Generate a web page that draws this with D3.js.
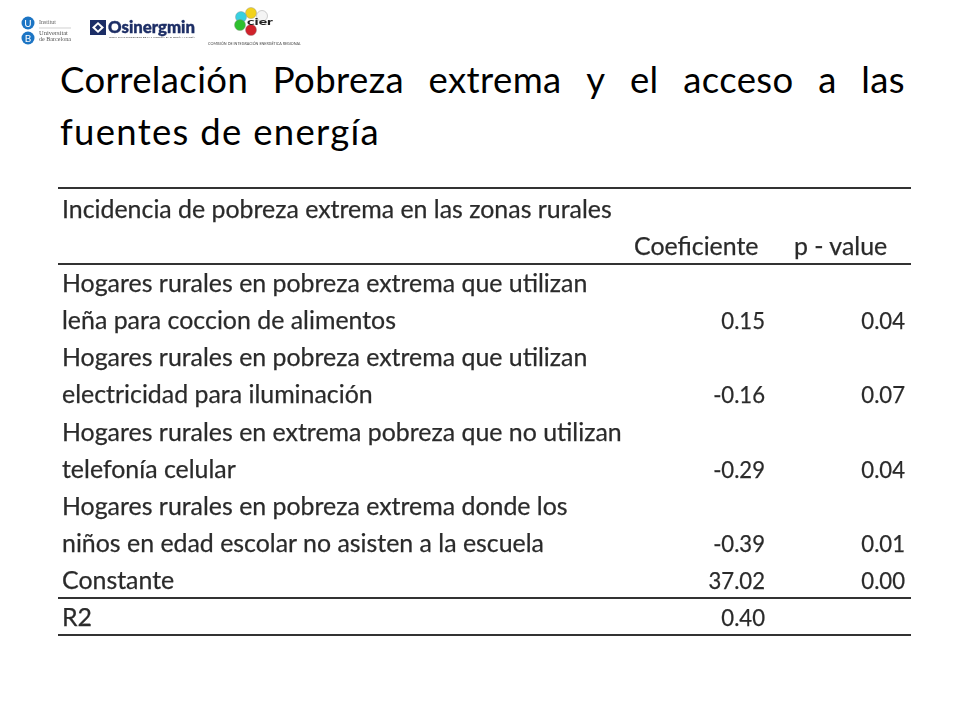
<!DOCTYPE html>
<html>
<head>
<meta charset="utf-8">
<script src="https://cdn.jsdelivr.net/npm/d3@7"></script>
<style>
	html, body { margin: 0; padding: 0; background: #fff; }
	svg { display: block; }
	text { font-family: Lato, "Open Sans", sans-serif; }
</style>
</head>
<body>
<div id="chart"></div>
<script>
// TITLE
const titleLine1 = ["Correlación", "Pobreza", "extrema", "y", "el", "acceso", "a", "las"];
const titleLine2 = "fuentes de energía";

// TABLE
const headerLabel = "Incidencia de pobreza extrema en las zonas rurales";
const columnLabels = ["Coeficiente", "p - value"];
const rowLabels = [
	"Hogares rurales en pobreza extrema que utilizan",
	"leña para coccion de alimentos",
	"Hogares rurales en pobreza extrema que utilizan",
	"electricidad para iluminación",
	"Hogares rurales en extrema pobreza que no utilizan",
	"telefonía celular",
	"Hogares rurales en pobreza extrema donde los",
	"niños en edad escolar no asisten a la escuela",
	"Constante",
	"R2",
];
const coefValues = ["", "0.15", "", "-0.16", "", "-0.29", "", "-0.39", "37.02", "0.40"];
const pValues = ["", "0.04", "", "0.07", "", "0.04", "", "0.01", "0.00", ""];

// LOGO COLOURS
const cierColors = ["#f2d21f", "#37d0e0", "#f4f4f4", "#2fc02f", "#d0202a"];

const svg = d3.select("#chart").append("svg").attr("width", 960).attr("height", 720);

// SLIGHT BLUR, THE SOURCE TABLE AND LOGOS ARE SCALED-UP IMAGES
const defs = svg.append("defs");
defs.append("filter").attr("id", "soft").append("feGaussianBlur").attr("stdDeviation", 0.3);
defs.append("filter").attr("id", "softer").append("feGaussianBlur").attr("stdDeviation", 0.45);

// TITLE, FIRST LINE IS JUSTIFIED
const titleSize = 36.5;
const titleGroup = svg.append("g").attr("font-size", titleSize).attr("fill", "#000");
const titleWords = titleGroup
	.selectAll("text")
	.data(titleLine1)
	.join("text")
	.attr("y", 93)
	.style("letter-spacing", "0.4px")
	.text((d) => d);
const wordWidths = titleWords.nodes().map((n) => n.getComputedTextLength());
const gap = (905 - 60 - d3.sum(wordWidths)) / (titleLine1.length - 1);
titleWords.attr("x", (d, i) => 60 + d3.sum(wordWidths.slice(0, i)) + i * gap);
titleGroup
	.append("text")
	.attr("x", 60)
	.attr("y", 144.5)
	.style("letter-spacing", "1.3px")
	.text(titleLine2);

// ROW POSITIONS
const rowKeys = ["header", "columns"].concat(rowLabels.map((d, i) => "r" + i));
const y = d3.scalePoint().domain(rowKeys).range([218, 626]);

const table = svg
	.append("g")
	.attr("font-size", 24.9)
	.attr("fill", "#2b2b2b")
	.attr("stroke", "#2b2b2b")
	.attr("stroke-width", 0.25)
	.attr("filter", "url(#soft)");

// RULES
const rules = [
	["header", -30],
	["columns", 9],
	["r8", 9],
	["r9", 9],
];
table
	.selectAll("line")
	.data(rules)
	.join("line")
	.attr("x1", 58)
	.attr("x2", 911)
	.attr("y1", (d) => y(d[0]) + d[1])
	.attr("y2", (d) => y(d[0]) + d[1])
	.attr("stroke", "#333")
	.attr("stroke-width", 2);

// HEADER
table.append("text").attr("x", 62).attr("y", y("header")).text(headerLabel);
table.append("text").attr("x", 634).attr("y", y("columns")).text(columnLabels[0]);
table.append("text").attr("x", 794).attr("y", y("columns")).text(columnLabels[1]);

// LATO DIGITS ARE WIDER THAN THE ORIGINAL, SO SQUEEZE THEM A BIT
function addNumber(value, x, rowY) {
	if (value === "") return;
	const t = table
		.append("text")
		.attr("x", x)
		.attr("y", rowY)
		.attr("text-anchor", "end")
		.attr("font-size", 23.5)
		.text(value);
	t.attr("textLength", t.node().getComputedTextLength() * 0.94).attr("lengthAdjust", "spacingAndGlyphs");
}

// BODY
rowLabels.forEach(function (label, i) {
	const rowY = y("r" + i);
	table.append("text").attr("x", 62).attr("y", rowY).text(label);
	addNumber(coefValues[i], 765, rowY);
	addNumber(pValues[i], 905, rowY);
});

// LOGOS
const logos = svg.append("g").attr("filter", "url(#softer)");

// UNIVERSITAT DE BARCELONA
[["U", 28, 23], ["B", 28, 38]].forEach(function (d) {
	logos.append("circle").attr("cx", d[1]).attr("cy", d[2]).attr("r", 6.5).attr("fill", "#1f75c4");
	logos.append("text").attr("x", d[1]).attr("y", d[2] + 3.5).attr("text-anchor", "middle")
		.attr("font-size", 10).attr("fill", "#fff").text(d[0]);
});
logos.append("line").attr("x1", 39).attr("x2", 71).attr("y1", 28).attr("y2", 28).attr("stroke", "#bbb").attr("stroke-width", 0.7);
logos.append("text").attr("x", 39).attr("y", 24).attr("font-size", 6).attr("fill", "#666").style("font-family", "Liberation Serif").text("Institut");
logos.append("text").attr("x", 39).attr("y", 35).attr("font-size", 6.5).attr("fill", "#555").style("font-family", "Liberation Serif").text("Universitat");
logos.append("text").attr("x", 39).attr("y", 41).attr("font-size", 6.5).attr("fill", "#555")
	.attr("textLength", 32).attr("lengthAdjust", "spacingAndGlyphs").style("font-family", "Liberation Serif").text("de Barcelona");

// OSINERGMIN
logos.append("rect").attr("x", 90).attr("y", 20).attr("width", 16).attr("height", 15).attr("fill", "#1f2f66");
logos.append("path").attr("d", "M98 22l6 5.5-6 5.5-6-5.5z").attr("fill", "#fff");
logos.append("path").attr("d", "M98 24.5l3 3-3 3-3-3z").attr("fill", "#1f2f66");
logos.append("text").attr("x", 108).attr("y", 32.5).attr("font-size", 17).attr("font-weight", 900).attr("fill", "#1f2f66")
	.attr("stroke", "#1f2f66").attr("stroke-width", 0.4)
	.attr("textLength", 87).attr("lengthAdjust", "spacingAndGlyphs").text("Osinergmin");
logos.append("text").attr("x", 109).attr("y", 38).attr("font-size", 2.6).attr("fill", "#333")
	.attr("textLength", 86).attr("lengthAdjust", "spacingAndGlyphs").text("ORGANISMO SUPERVISOR DE LA INVERSIÓN EN ENERGÍA Y MINERÍA");

// CIER
const cierX = [251, 241, 262, 240, 251];
const cierY = [13, 17, 16, 25, 30];
cierColors.forEach(function (c, i) {
	logos.append("circle").attr("cx", cierX[i]).attr("cy", cierY[i]).attr("r", 5.5)
		.attr("fill", c).attr("stroke", "#888").attr("stroke-width", 0.4);
});
logos.append("text").attr("x", 247).attr("y", 25).attr("font-size", 10).attr("font-weight", 900).attr("fill", "#222")
	.attr("textLength", 26).attr("lengthAdjust", "spacingAndGlyphs").text("cier");
logos.append("text").attr("x", 208).attr("y", 44.5).attr("font-size", 3.6).attr("fill", "#444")
	.attr("textLength", 93).attr("lengthAdjust", "spacingAndGlyphs").text("COMISIÓN DE INTEGRACIÓN ENERGÉTICA REGIONAL");
</script>
</body>
</html>
